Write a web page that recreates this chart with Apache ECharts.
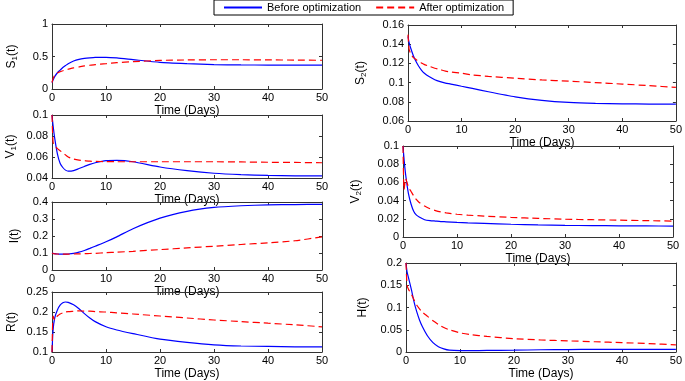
<!DOCTYPE html>
<html>
<head>
<meta charset="utf-8">
<script src="https://cdn.jsdelivr.net/npm/echarts@6/dist/echarts.min.js"></script>
<style>
  html, body { margin: 0; padding: 0; background: #fff; }
  #chart { width: 685px; height: 381px; }
</style>
</head>
<body>
<div id="chart"></div>
<script>
var days = [0, 0.2, 0.5, 1, 1.5, 2, 2.5, 3, 4, 5, 6, 7, 8, 10, 12, 15, 20, 25, 30, 35, 40, 45, 50];
var xTicks = [0, 10, 20, 30, 40, 50];

var s1Before = [0.10, 0.14, 0.19, 0.25, 0.29, 0.33, 0.36, 0.39, 0.43, 0.455, 0.47, 0.48, 0.487, 0.488, 0.478, 0.452, 0.41, 0.39, 0.375, 0.37, 0.368, 0.367, 0.366];
var s1After  = [0.10, 0.16, 0.21, 0.245, 0.265, 0.28, 0.295, 0.305, 0.325, 0.34, 0.355, 0.365, 0.375, 0.39, 0.405, 0.42, 0.44, 0.447, 0.45, 0.45, 0.448, 0.445, 0.442];

var v1Before = [0.1, 0.09, 0.078, 0.063, 0.054, 0.05, 0.0475, 0.0465, 0.047, 0.049, 0.051, 0.053, 0.0545, 0.0565, 0.0568, 0.0555, 0.0505, 0.047, 0.0445, 0.0432, 0.0425, 0.0421, 0.042];
var v1After  = [0.1, 0.074, 0.071, 0.068, 0.066, 0.064, 0.062, 0.06, 0.058, 0.057, 0.0565, 0.056, 0.0558, 0.0556, 0.0555, 0.0555, 0.0555, 0.0555, 0.0555, 0.0553, 0.055, 0.0548, 0.0545];

var iBefore = [0.1, 0.098, 0.096, 0.094, 0.093, 0.093, 0.093, 0.094, 0.098, 0.105, 0.115, 0.127, 0.14, 0.166, 0.195, 0.243, 0.305, 0.345, 0.368, 0.378, 0.383, 0.385, 0.386];
var iAfter  = [0.1, 0.097, 0.095, 0.094, 0.093, 0.093, 0.093, 0.093, 0.094, 0.095, 0.096, 0.097, 0.098, 0.102, 0.105, 0.11, 0.12, 0.13, 0.14, 0.15, 0.16, 0.172, 0.195];

var rBefore = [0.1, 0.155, 0.185, 0.205, 0.217, 0.223, 0.225, 0.224, 0.218, 0.208, 0.196, 0.185, 0.176, 0.163, 0.155, 0.146, 0.132, 0.124, 0.118, 0.115, 0.114, 0.113, 0.113];
var rAfter  = [0.1, 0.19, 0.18, 0.19, 0.195, 0.198, 0.2, 0.201, 0.202, 0.203, 0.202, 0.202, 0.201, 0.2, 0.198, 0.195, 0.19, 0.185, 0.18, 0.176, 0.172, 0.168, 0.163];

var s2Before = [0.148, 0.142, 0.136, 0.128, 0.122, 0.117, 0.113, 0.11, 0.106, 0.103, 0.101, 0.0995, 0.0985, 0.0962, 0.094, 0.0905, 0.0852, 0.0815, 0.0793, 0.0783, 0.0779, 0.0776, 0.0775];
var s2After  = [0.15, 0.135, 0.13, 0.126, 0.124, 0.122, 0.1205, 0.119, 0.117, 0.115, 0.1135, 0.112, 0.111, 0.1098, 0.108, 0.1065, 0.1045, 0.1028, 0.1015, 0.1, 0.0985, 0.0968, 0.095];

var v2Before = [0.1, 0.085, 0.068, 0.048, 0.036, 0.028, 0.024, 0.022, 0.019, 0.018, 0.0175, 0.017, 0.0167, 0.016, 0.0155, 0.015, 0.014, 0.0133, 0.0128, 0.0125, 0.0123, 0.0122, 0.012];
var v2After  = [0.1, 0.052, 0.064, 0.055, 0.05, 0.045, 0.041, 0.038, 0.034, 0.031, 0.029, 0.0275, 0.0265, 0.025, 0.024, 0.023, 0.0215, 0.0205, 0.0195, 0.019, 0.0185, 0.018, 0.0175];

var hBefore = [0.2, 0.18, 0.165, 0.14, 0.112, 0.09, 0.072, 0.058, 0.036, 0.021, 0.012, 0.007, 0.004, 0.003, 0.003, 0.0035, 0.004, 0.005, 0.0055, 0.006, 0.006, 0.006, 0.006];
var hAfter  = [0.2, 0.15, 0.14, 0.13, 0.117, 0.105, 0.097, 0.09, 0.08, 0.07, 0.062, 0.055, 0.05, 0.043, 0.039, 0.035, 0.03, 0.027, 0.025, 0.023, 0.021, 0.019, 0.016];

var panels = [
  { label: '{n|S}{s|1}{n|(t)}', box: [52, 24, 270, 65],  min: 0,    max: 1,    step: 0.5,  gap: 33, before: s1Before, after: s1After },
  { label: '{n|V}{s|1}{n|(t)}', box: [52, 115, 270, 63], min: 0.04, max: 0.1,  step: 0.02, gap: 34, before: v1Before, after: v1After },
  { label: '{n|I(t)}',          box: [52, 202, 270, 68], min: 0,    max: 0.4,  step: 0.1,  gap: 31, before: iBefore,  after: iAfter },
  { label: '{n|R(t)}',          box: [52, 292, 270, 66], min: 0.1,  max: 0.25, step: 0.05, gap: 34, before: rBefore,  after: rAfter },
  { label: '{n|S}{s|2}{n|(t)}', box: [408, 25, 269, 96], min: 0.06, max: 0.16, step: 0.02, gap: 40, before: s2Before, after: s2After },
  { label: '{n|V}{s|2}{n|(t)}', box: [403, 146, 270, 91], min: 0,   max: 0.1,  step: 0.02, gap: 40, before: v2Before, after: v2After },
  { label: '{n|H(t)}',          box: [406, 263, 270, 94], min: 0,   max: 0.2,  step: 0.05, gap: 37, before: hBefore,  after: hAfter }
];

var chart = echarts.init(document.getElementById('chart'));
var axisColor = '#333';
var font = 'Liberation Sans, Arial, sans-serif';
var blue = '#0000ff';
var red = '#ff0000';

function pairs(vals) {
  return days.map(function (d, i) { return [d, vals[i]]; });
}

var grid = [], xAxis = [], yAxis = [], series = [];

panels.forEach(function (p, k) {
  grid.push({ left: p.box[0], top: p.box[1], width: p.box[2], height: p.box[3], containLabel: false });

  var line = { show: true, onZero: false, lineStyle: { color: axisColor, width: 1 } };
  var tick = { show: true, inside: true, length: 3, lineStyle: { color: axisColor } };

  xAxis.push({
    gridIndex: k, type: 'value', min: 0, max: 50, interval: 10, position: 'bottom',
    axisLine: line, axisTick: tick, splitLine: { show: false },
    axisLabel: { color: '#000', fontSize: 11, fontFamily: font, margin: 3 },
    name: 'Time (Days)', nameLocation: 'middle', nameGap: 16,
    nameTextStyle: { color: '#000', fontSize: 12, fontFamily: font }
  });
  xAxis.push({
    gridIndex: k, type: 'value', min: 0, max: 50, interval: 10, position: 'top',
    axisLine: line, axisTick: tick, splitLine: { show: false }, axisLabel: { show: false }
  });
  yAxis.push({
    gridIndex: k, type: 'value', min: p.min, max: p.max, interval: p.step, position: 'left',
    axisLine: line, axisTick: tick, splitLine: { show: false },
    axisLabel: { color: '#000', fontSize: 11, fontFamily: font, margin: 4 },
    name: p.label, nameLocation: 'middle', nameGap: p.gap,
    nameTextStyle: {
      color: '#000', fontFamily: font,
      rich: {
        n: { fontSize: 12, fontFamily: font, color: '#000' },
        s: { fontSize: 8, fontFamily: font, color: '#000', padding: [7, 0, 0, 0] }
      }
    }
  });
  yAxis.push({
    gridIndex: k, type: 'value', min: p.min, max: p.max, interval: p.step, position: 'right',
    axisLine: line, axisTick: tick, splitLine: { show: false }, axisLabel: { show: false }
  });

  series.push({
    name: 'Before optimization', type: 'line', xAxisIndex: 2 * k, yAxisIndex: 2 * k,
    data: pairs(p.before), showSymbol: false, symbol: 'none', smooth: 0.2,
    itemStyle: { color: blue },
    lineStyle: { color: blue, width: 1.2 }
  });
  series.push({
    name: 'After optimization', type: 'line', xAxisIndex: 2 * k, yAxisIndex: 2 * k,
    data: pairs(p.after), showSymbol: false, symbol: 'none', smooth: 0.2,
    itemStyle: { color: red },
    lineStyle: { color: red, width: 1.2, type: [7, 4] }
  });
});

chart.setOption({
  animation: false,
  legend: {
    data: ['Before optimization', 'After optimization'],
    left: 214, top: 0,
    borderColor: '#000', borderWidth: 1,
    padding: [2, 9, 2, 9],
    itemWidth: 38, itemHeight: 10, itemGap: 14,
    itemStyle: { opacity: 0 },
    textStyle: { color: '#000', fontSize: 11, fontFamily: font }
  },
  grid: grid,
  xAxis: xAxis,
  yAxis: yAxis,
  series: series
});
</script>
</body>
</html>
